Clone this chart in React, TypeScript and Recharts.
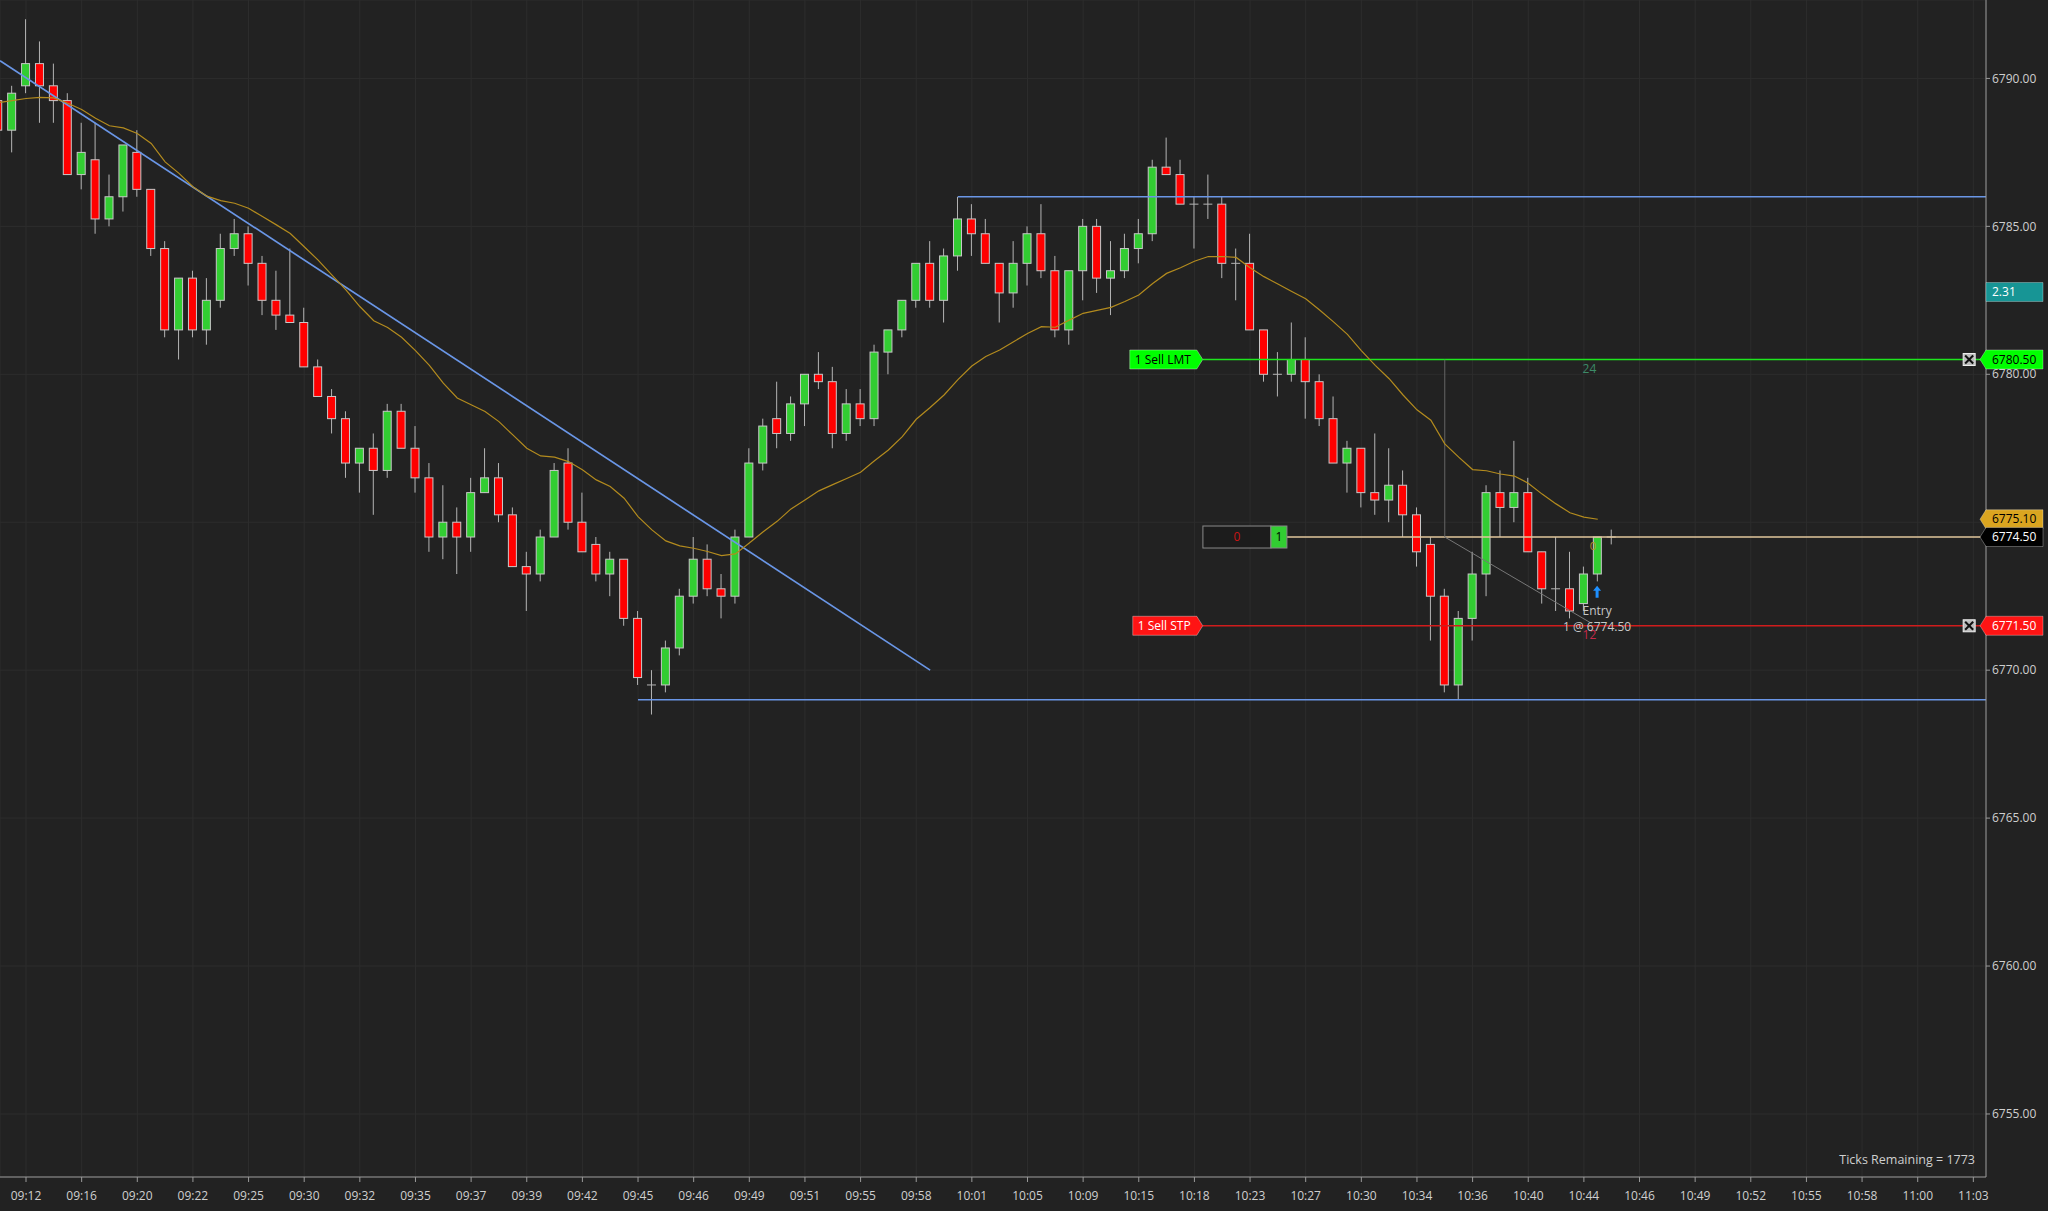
import React from "react";
import {
  ComposedChart,
  Bar,
  Line,
  XAxis,
  YAxis,
  CartesianGrid,
  ReferenceLine,
  ReferenceDot,
} from "recharts";

// ── Data ────────────────────────────────────────────────────────

const TIME_LABELS = [
  "09:12", "09:16", "09:20", "09:22", "09:25", "09:30", "09:32", "09:35", "09:37",
  "09:39", "09:42", "09:45", "09:46", "09:49", "09:51", "09:55", "09:58", "10:01",
  "10:05", "10:09", "10:15", "10:18", "10:23", "10:27", "10:30", "10:34", "10:36",
  "10:40", "10:44", "10:46", "10:49", "10:52", "10:55", "10:58", "11:00", "11:03",
];

const PRICE_TICKS = [6755, 6760, 6765, 6770, 6775, 6780, 6785, 6790];

// bar index of the first bar (partly cut off at the left edge)
const FIRST_BAR = -2;

const OPEN = [
  6789.25, 6788.25, 6789.75, 6790.5, 6789.75, 6789.25, 6786.75, 6787.25, 6785.25, 6786.0,
  6787.5, 6786.25, 6784.25, 6781.5, 6783.25, 6781.5, 6782.5, 6784.25, 6784.75, 6783.75,
  6782.5, 6782.0, 6781.75, 6780.25, 6779.25, 6778.5, 6777.0, 6777.5, 6776.75, 6778.75,
  6777.5, 6776.5, 6774.5, 6775.0, 6774.5, 6776.0, 6776.5, 6775.25, 6773.5, 6773.25,
  6774.5, 6777.0, 6775.0, 6774.25, 6773.25, 6773.75, 6771.75, 6769.5, 6769.5, 6770.75,
  6772.5, 6773.75, 6772.75, 6772.5, 6774.5, 6777.0, 6778.5, 6778.0, 6779.0, 6780.0,
  6779.75, 6778.0, 6779.0, 6778.5, 6780.75, 6781.5, 6782.5, 6783.75, 6782.5, 6784.0,
  6785.25, 6784.75, 6783.75, 6782.75, 6783.75, 6784.75, 6783.5, 6781.5, 6783.5, 6785.0,
  6783.25, 6783.5, 6784.25, 6784.75, 6787.0, 6786.75, 6785.75, 6785.75, 6785.75, 6783.75,
  6783.75, 6781.5, 6780.0, 6780.0, 6780.5, 6779.75, 6778.5, 6777.0, 6777.5, 6776.0,
  6775.75, 6776.25, 6775.25, 6774.25, 6772.5, 6769.5, 6771.75, 6773.25, 6776.0, 6775.5,
  6776.0, 6774.0, 6772.75, 6772.75, 6772.25, 6773.25, 6774.5,
];

const HIGH = [
  6789.5, 6789.75, 6792.0, 6791.25, 6790.5, 6789.5, 6788.5, 6788.5, 6786.75, 6787.75,
  6788.25, 6786.25, 6784.5, 6783.25, 6783.5, 6783.25, 6784.75, 6785.25, 6785.0, 6784.0,
  6783.5, 6784.25, 6782.25, 6780.5, 6779.5, 6778.75, 6777.5, 6778.0, 6779.0, 6779.0,
  6778.25, 6777.0, 6776.25, 6775.5, 6776.5, 6777.5, 6777.0, 6775.5, 6774.0, 6774.75,
  6777.0, 6777.5, 6776.0, 6774.5, 6774.0, 6773.75, 6772.0, 6770.0, 6771.0, 6772.75,
  6774.5, 6774.25, 6773.25, 6774.75, 6777.5, 6778.5, 6779.75, 6779.25, 6780.0, 6780.75,
  6780.25, 6779.5, 6779.5, 6781.0, 6781.5, 6782.5, 6783.75, 6784.5, 6784.25, 6786.0,
  6785.75, 6785.25, 6783.75, 6784.5, 6785.0, 6785.75, 6784.0, 6783.5, 6785.25, 6785.25,
  6784.5, 6784.75, 6785.25, 6787.25, 6788.0, 6787.25, 6786.0, 6786.75, 6786.0, 6784.25,
  6784.75, 6781.5, 6780.75, 6781.75, 6781.25, 6780.0, 6779.25, 6777.75, 6777.5, 6778.0,
  6777.5, 6776.75, 6775.5, 6774.5, 6772.75, 6772.0, 6774.0, 6776.25, 6776.75, 6777.75,
  6776.5, 6774.0, 6774.5, 6774.0, 6773.5, 6774.5, 6774.75,
];

const LOW = [
  6788.0, 6787.5, 6789.5, 6788.5, 6788.5, 6786.75, 6786.25, 6784.75, 6785.0, 6785.5,
  6786.0, 6784.0, 6781.25, 6780.5, 6781.25, 6781.0, 6782.25, 6784.0, 6783.0, 6782.0,
  6781.5, 6781.75, 6780.25, 6779.25, 6778.0, 6776.5, 6776.0, 6775.25, 6776.5, 6777.5,
  6776.0, 6774.0, 6773.75, 6773.25, 6774.0, 6776.0, 6775.0, 6773.5, 6772.0, 6773.0,
  6774.5, 6774.75, 6774.0, 6773.0, 6772.5, 6771.5, 6769.5, 6768.5, 6769.25, 6770.5,
  6772.25, 6772.5, 6771.75, 6772.25, 6774.5, 6776.75, 6777.5, 6777.75, 6778.25, 6779.5,
  6777.5, 6777.75, 6778.25, 6778.25, 6780.0, 6781.25, 6782.25, 6782.25, 6781.75, 6783.5,
  6784.0, 6783.75, 6781.75, 6782.25, 6783.0, 6783.25, 6781.25, 6781.0, 6782.5, 6782.75,
  6782.0, 6783.25, 6783.75, 6784.5, 6786.75, 6785.75, 6784.25, 6785.25, 6783.25, 6782.5,
  6781.5, 6779.75, 6779.25, 6779.75, 6778.5, 6778.25, 6777.0, 6776.0, 6775.5, 6775.25,
  6775.0, 6774.5, 6773.5, 6771.0, 6769.25, 6769.0, 6771.0, 6772.5, 6774.5, 6775.0,
  6774.0, 6772.25, 6772.0, 6771.75, 6772.0, 6773.0, 6774.25,
];

const CLOSE = [
  6788.25, 6789.5, 6790.5, 6789.75, 6789.25, 6786.75, 6787.5, 6785.25, 6786.0, 6787.75,
  6786.25, 6784.25, 6781.5, 6783.25, 6781.5, 6782.5, 6784.25, 6784.75, 6783.75, 6782.5,
  6782.0, 6781.75, 6780.25, 6779.25, 6778.5, 6777.0, 6777.5, 6776.75, 6778.75, 6777.5,
  6776.5, 6774.5, 6775.0, 6774.5, 6776.0, 6776.5, 6775.25, 6773.5, 6773.25, 6774.5,
  6776.75, 6775.0, 6774.0, 6773.25, 6773.75, 6771.75, 6769.75, 6769.5, 6770.75, 6772.5,
  6773.75, 6772.75, 6772.5, 6774.5, 6777.0, 6778.25, 6778.0, 6779.0, 6780.0, 6779.75,
  6778.0, 6779.0, 6778.5, 6780.75, 6781.5, 6782.5, 6783.75, 6782.5, 6784.0, 6785.25,
  6784.75, 6783.75, 6782.75, 6783.75, 6784.75, 6783.5, 6781.5, 6783.5, 6785.0, 6783.25,
  6783.5, 6784.25, 6784.75, 6787.0, 6786.75, 6785.75, 6785.75, 6785.75, 6783.75, 6783.75,
  6781.5, 6780.0, 6780.0, 6780.5, 6779.75, 6778.5, 6777.0, 6777.5, 6776.0, 6775.75,
  6776.25, 6775.25, 6774.0, 6772.5, 6769.5, 6771.75, 6773.25, 6776.0, 6775.5, 6776.0,
  6774.0, 6772.75, 6772.75, 6772.0, 6773.25, 6774.5, 6774.5,
];

// moving average (gold line), one reading per bar
const MA = [
  6789.18, 6789.25, 6789.32, 6789.36, 6789.34, 6789.16, 6788.95, 6788.65, 6788.4, 6788.33,
  6788.14, 6787.8, 6787.18, 6786.79, 6786.34, 6786.02, 6785.87, 6785.78, 6785.61, 6785.33,
  6785.05, 6784.76, 6784.31, 6783.86, 6783.35, 6782.85, 6782.29, 6781.81, 6781.58, 6781.25,
  6780.8, 6780.3, 6779.7, 6779.2, 6778.97, 6778.74, 6778.4, 6777.95, 6777.5, 6777.24,
  6777.2, 6777.05, 6776.77, 6776.43, 6776.21, 6775.81, 6775.19, 6774.74, 6774.37, 6774.2,
  6774.12, 6774.01, 6773.87, 6773.93, 6774.3, 6774.68, 6775.03, 6775.45, 6775.75, 6776.06,
  6776.27, 6776.48, 6776.69, 6777.08, 6777.44, 6777.89, 6778.48, 6778.88, 6779.3, 6779.82,
  6780.28, 6780.6, 6780.82, 6781.1, 6781.38, 6781.61, 6781.59, 6781.83, 6782.06, 6782.16,
  6782.26, 6782.46, 6782.68, 6783.07, 6783.41, 6783.6, 6783.82, 6783.98, 6783.98, 6783.95,
  6783.6, 6783.3, 6783.05, 6782.8, 6782.55, 6782.17, 6781.77, 6781.35, 6780.8, 6780.3,
  6779.85, 6779.3, 6778.8, 6778.45, 6777.65, 6777.2, 6776.78, 6776.74, 6776.63, 6776.56,
  6776.32, 6775.95, 6775.62, 6775.32, 6775.17, 6775.1, null,
];

// drawings / orders
const TREND_START = { x: -1.87, y: 6790.6 };
const TREND_END = { x: 65, y: 6770.0 };
const RESISTANCE = 6786.0;
const RESISTANCE_FROM = 67;
const SUPPORT = 6769.0;
const SUPPORT_FROM = 44;
const LIMIT_PRICE = 6780.5;
const STOP_PRICE = 6771.5;
const ENTRY_PRICE = 6774.5;
const MA_LAST = 6775.1;
const INDICATOR_VALUE = "2.31";
const INDICATOR_Y = 6782.78;
const ORDER_TAG_AT = 84.6;
const POSITION_TAG_AT = 90.65;
const ENTRY_BAR = 113;
const TICKS_REMAINING = 1773;

// ── Layout constants ────────────────────────────────────────────

const X_MIN = -1.87;
const X_MAX = 140.91;
const Y_MIN = 6752.87;
const Y_MAX = 6792.65;

const BG = "#222222";
const GRID = "#2d2d2d";
const AXIS = "#9a9a9a";
const TEXT = "#cfcfcf";
const UP = "#32cd32";
const DOWN = "#ff0000";
const WICK = "#b4b4b4";
const OUTLINE = "#c8c8c8";
const FONT = "'Open Sans', 'Noto Sans', sans-serif";

// prices that carry a tag on the price axis (tick labels under them are covered)
const TAGGED = [INDICATOR_Y, LIMIT_PRICE, MA_LAST, ENTRY_PRICE, STOP_PRICE];

const data = OPEN.map((o, k) => ({
  i: FIRST_BAR + k,
  open: o,
  high: HIGH[k],
  low: LOW[k],
  close: CLOSE[k],
  ma: MA[k],
}));

const xTicks = TIME_LABELS.map((_, k) => k * 4);

// ── Shapes ──────────────────────────────────────────────────────

function Candle(props: any) {
  const { x, y, width, height, payload } = props;
  if (!payload || x == null || y == null) return null;
  const { open, close, high, low } = payload;
  const top = Math.min(y, y + height);
  const span = Math.abs(height);
  const k = high === low ? 0 : span / (high - low);
  const py = (v: number) => top + (high - v) * k;
  const cx = x + width / 2;
  const bTop = py(Math.max(open, close));
  const bBot = py(Math.min(open, close));
  return (
    <g>
      <line x1={cx} x2={cx} y1={top} y2={top + span} stroke={WICK} strokeWidth={1} />
      {open === close ? (
        <line x1={x} x2={x + width} y1={bTop} y2={bTop} stroke={WICK} strokeWidth={1} />
      ) : (
        <rect
          x={x + 0.5}
          y={bTop}
          width={width - 1}
          height={Math.max(1, bBot - bTop)}
          fill={close > open ? UP : DOWN}
          stroke={OUTLINE}
          strokeWidth={1}
        />
      )}
    </g>
  );
}

function PriceTick(props: any) {
  const { x, y, payload } = props;
  const v = payload.value as number;
  if (TAGGED.some((t) => Math.abs(t - v) < 0.35)) return null;
  return (
    <text x={x} y={y} dy="0.35em" textAnchor="start" fontSize={12} fill={TEXT} fontFamily={FONT}>
      {v.toFixed(2)}
    </text>
  );
}

const orderTag = (text: string, fill: string, color: string, w: number) => (p: any) => {
  const { cx, cy } = p;
  return (
    <g>
      <polygon
        points={`${cx - w},${cy - 9.5} ${cx - 6},${cy - 9.5} ${cx},${cy} ${cx - 6},${cy + 9.5} ${cx - w},${cy + 9.5}`}
        fill={fill}
        stroke="rgba(255,255,255,0.35)"
      />
      <text x={cx - w + 5} y={cy} dy="0.35em" fontSize={12} fill={color} fontFamily={FONT}>
        {text}
      </text>
    </g>
  );
};

const axisTag = (text: string, fill: string, color: string, arrow = true) => (p: any) => {
  const { cx, cy } = p;
  const pts = arrow
    ? `${cx - 6},${cy} ${cx},${cy - 9.5} ${cx + 57},${cy - 9.5} ${cx + 57},${cy + 9.5} ${cx},${cy + 9.5}`
    : `${cx},${cy - 9.5} ${cx + 57},${cy - 9.5} ${cx + 57},${cy + 9.5} ${cx},${cy + 9.5}`;
  return (
    <g>
      <polygon points={pts} fill={fill} stroke="rgba(255,255,255,0.3)" />
      <text x={cx + 6} y={cy} dy="0.35em" fontSize={12} fill={color} fontFamily={FONT}>
        {text}
      </text>
    </g>
  );
};

const CloseBox = (p: any) => {
  const { cx, cy } = p;
  return (
    <g>
      <rect x={cx - 6} y={cy - 6} width={12} height={12} fill="#bdbdbd" stroke="#eeeeee" />
      <line x1={cx - 4} y1={cy - 4} x2={cx + 4} y2={cy + 4} stroke="#111" strokeWidth={2} />
      <line x1={cx + 4} y1={cy - 4} x2={cx - 4} y2={cy + 4} stroke="#111" strokeWidth={2} />
    </g>
  );
};

const PositionBox = (p: any) => {
  const { cx, cy } = p;
  return (
    <g fontFamily={FONT} fontSize={12}>
      <rect x={cx - 84} y={cy - 11} width={68} height={22} fill="#1c1c1c" stroke="#8a8a8a" />
      <text x={cx - 50} y={cy} dy="0.35em" textAnchor="middle" fill="#c81414">0</text>
      <rect x={cx - 16} y={cy - 11} width={16} height={22} fill={UP} stroke="#8a8a8a" />
      <text x={cx - 8} y={cy} dy="0.35em" textAnchor="middle" fill="#000">1</text>
    </g>
  );
};

const textShape = (text: string, color: string, size = 12, anchor = "middle") => (p: any) => (
  <text
    x={p.cx}
    y={p.cy}
    dy="0.35em"
    textAnchor={anchor}
    fontSize={size}
    fill={color}
    fontFamily={FONT}
  >
    {text}
  </text>
);

const EntryArrow = (p: any) => {
  const { cx, cy } = p;
  return (
    <polygon
      points={`${cx},${cy - 6} ${cx + 4},${cy - 1} ${cx + 1.5},${cy - 1} ${cx + 1.5},${cy + 6} ${cx - 1.5},${cy + 6} ${cx - 1.5},${cy - 1} ${cx - 4},${cy - 1}`}
      fill="#1e90ff"
    />
  );
};

const TicksText = (p: any) => (
  <text
    x={p.cx - 11}
    y={p.cy - 17}
    dy="0.35em"
    textAnchor="end"
    fontSize={12.5}
    fill={TEXT}
    fontFamily={FONT}
  >
    {`Ticks Remaining = ${TICKS_REMAINING}`}
  </text>
);

// ── Chart ───────────────────────────────────────────────────────

export default function App() {
  return (
    <div
      style={{
        position: "absolute",
        left: 0,
        top: 0,
        width: 2048,
        height: 1211,
        background: BG,
        fontFamily: FONT,
      }}
    >
      <ComposedChart
        width={2048}
        height={1211}
        data={data}
        margin={{ top: 0, right: 0, bottom: 0, left: 0 }}
      >
        <CartesianGrid stroke={GRID} />
        <XAxis
          type="number"
          dataKey="i"
          domain={[X_MIN, X_MAX]}
          allowDataOverflow
          ticks={xTicks}
          interval={0}
          tickFormatter={(v: number) => TIME_LABELS[Math.round(v / 4)] ?? ""}
          height={34}
          stroke={AXIS}
          tick={{ fill: TEXT, fontSize: 12 }}
          tickSize={5}
          tickMargin={9}
        />
        <YAxis
          orientation="right"
          type="number"
          domain={[Y_MIN, Y_MAX]}
          allowDataOverflow
          ticks={PRICE_TICKS}
          interval={0}
          width={62}
          stroke={AXIS}
          tick={PriceTick}
          tickSize={4}
          tickMargin={2}
        />

        <ReferenceLine
          segment={[
            { x: RESISTANCE_FROM, y: RESISTANCE },
            { x: X_MAX, y: RESISTANCE },
          ]}
          stroke="#6a96e6"
          strokeWidth={1.7}
          ifOverflow="hidden"
        />
        <ReferenceLine
          segment={[
            { x: SUPPORT_FROM, y: SUPPORT },
            { x: X_MAX, y: SUPPORT },
          ]}
          stroke="#6a96e6"
          strokeWidth={1.7}
          ifOverflow="hidden"
        />
        <ReferenceLine
          segment={[TREND_START, TREND_END]}
          stroke="#6a96e6"
          strokeWidth={1.7}
          ifOverflow="hidden"
        />
        <ReferenceLine
          segment={[
            { x: ORDER_TAG_AT, y: LIMIT_PRICE },
            { x: X_MAX, y: LIMIT_PRICE },
          ]}
          stroke="#1ee61e"
          strokeWidth={1.6}
          ifOverflow="hidden"
        />
        <ReferenceLine
          segment={[
            { x: ORDER_TAG_AT, y: STOP_PRICE },
            { x: X_MAX, y: STOP_PRICE },
          ]}
          stroke="#d01c1c"
          strokeWidth={1.6}
          ifOverflow="hidden"
        />
        <ReferenceLine
          segment={[
            { x: POSITION_TAG_AT, y: ENTRY_PRICE },
            { x: X_MAX, y: ENTRY_PRICE },
          ]}
          stroke="#e2c79c"
          strokeWidth={1.5}
          ifOverflow="hidden"
        />
        <ReferenceLine
          segment={[
            { x: 102, y: LIMIT_PRICE },
            { x: 102, y: ENTRY_PRICE },
          ]}
          stroke="#666666"
          strokeWidth={1}
          ifOverflow="hidden"
        />
        <ReferenceLine
          segment={[
            { x: 102, y: ENTRY_PRICE },
            { x: 112.56, y: 6771.58 },
          ]}
          stroke="#777777"
          strokeWidth={1}
          ifOverflow="hidden"
        />

        <Bar
          dataKey={(d: any) => [d.low, d.high]}
          barSize={9}
          shape={Candle}
          isAnimationActive={false}
        />
        <Line
          dataKey="ma"
          type="linear"
          stroke="#b38b1e"
          strokeWidth={1.2}
          dot={false}
          activeDot={false}
          connectNulls
          isAnimationActive={false}
        />

        <ReferenceDot x={ORDER_TAG_AT} y={LIMIT_PRICE} shape={orderTag("1 Sell LMT", "#00ff00", "#000", 73)} />
        <ReferenceDot x={ORDER_TAG_AT} y={STOP_PRICE} shape={orderTag("1 Sell STP", "#ff1414", "#fff", 70)} />
        <ReferenceDot x={POSITION_TAG_AT} y={ENTRY_PRICE} shape={PositionBox} />
        <ReferenceDot x={139.7} y={LIMIT_PRICE} shape={CloseBox} />
        <ReferenceDot x={139.7} y={STOP_PRICE} shape={CloseBox} />

        <ReferenceDot x={112.4} y={6780.2} shape={textShape("24", "#3d8a68", 12)} />
        <ReferenceDot x={112.4} y={6771.2} shape={textShape("12", "#c8284a", 12)} />
        <ReferenceDot x={112.65} y={6774.2} shape={textShape("0", "#b8912a", 11)} />
        <ReferenceDot x={ENTRY_BAR - 0.05} y={6772.65} shape={EntryArrow} />
        <ReferenceDot x={ENTRY_BAR - 0.05} y={6772.0} shape={textShape("Entry", "#c8c8c8", 12)} />
        <ReferenceDot
          x={ENTRY_BAR - 0.05}
          y={6771.46}
          shape={textShape(`1 @ ${ENTRY_PRICE.toFixed(2)}`, "#c8c8c8", 12)}
        />

        <ReferenceDot x={X_MAX} y={INDICATOR_Y} shape={axisTag(INDICATOR_VALUE, "#179595", "#fff", false)} />
        <ReferenceDot x={X_MAX} y={LIMIT_PRICE} shape={axisTag(LIMIT_PRICE.toFixed(2), "#00ff00", "#000")} />
        <ReferenceDot x={X_MAX} y={MA_LAST} shape={axisTag(MA_LAST.toFixed(2), "#daa520", "#000")} />
        <ReferenceDot x={X_MAX} y={ENTRY_PRICE} shape={axisTag(ENTRY_PRICE.toFixed(2), "#000000", "#fff")} />
        <ReferenceDot x={X_MAX} y={STOP_PRICE} shape={axisTag(STOP_PRICE.toFixed(2), "#ff1414", "#fff")} />
        <ReferenceDot x={X_MAX} y={Y_MIN} shape={TicksText} />
      </ComposedChart>
    </div>
  );
}
